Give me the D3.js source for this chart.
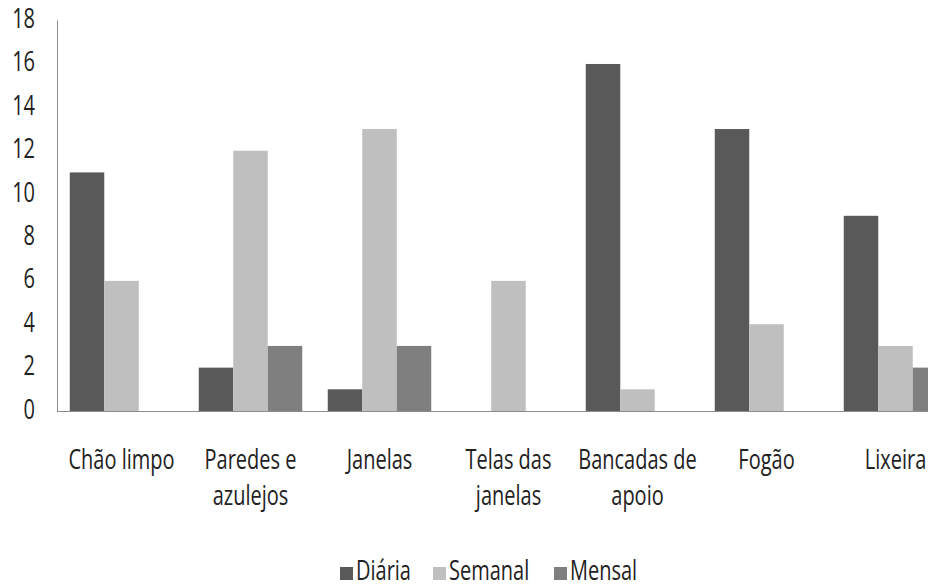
<!DOCTYPE html>
<html><head><meta charset="utf-8">
<script src="https://cdn.jsdelivr.net/npm/d3@7"></script>
<style>html,body{margin:0;padding:0;background:#fff;overflow:hidden}</style>
</head><body>
<script>
const categories = [["Chão limpo"],["Paredes e","azulejos"],["Janelas"],["Telas das","janelas"],["Bancadas de","apoio"],["Fogão"],["Lixeira"]];
const seriesNames = ["Diária","Semanal","Mensal"];
const diaria  = [11, 2, 1, 0, 16, 13, 9];
const semanal = [6, 12, 13, 6, 1, 4, 3];
const mensal  = [0, 3, 3, 0, 0, 0, 2];
const yTicks = [0,2,4,6,8,10,12,14,16,18];
const colors = ["#595959","#bfbfbf","#7f7f7f"];

const W = 928, H = 587;
const svg = d3.select("body").append("svg").attr("width", W).attr("height", H);
const x0 = 57, bandW = 129;
const x = d3.scaleBand().domain(d3.range(categories.length)).range([x0, x0 + bandW*categories.length]).paddingInner(0).paddingOuter(0);
const xi = d3.scaleBand().domain(d3.range(3)).range([0, bandW]).paddingInner(0).paddingOuter(0.37);
const y = d3.scaleLinear().domain([0,18]).range([411, 20.6]);

const SY = 1.33;
function stext(g, tx, ty, str, anchor, size){
  const gg = g.append("g").attr("transform", `translate(${tx},${ty}) scale(1,${SY})`);
  gg.append("text").attr("text-anchor", anchor).attr("font-family","'Open Sans'").attr("font-size", size).attr("fill","#222").text(str);
  return gg;
}

const series = [diaria, semanal, mensal];
series.forEach((vals, si) => {
  svg.append("g").selectAll("rect").data(vals).join("rect")
    .attr("x", (d,i) => x(i) + xi(si))
    .attr("width", xi.bandwidth())
    .attr("y", d => y(d))
    .attr("height", d => y(0) - y(d))
    .attr("fill", colors[si]);
});

// axes lines
svg.append("line").attr("x1", x0+0.5).attr("x2", x0+0.5).attr("y1", y(18)).attr("y2", y(0)).attr("stroke","#8c8c8c").attr("stroke-width",1);
svg.append("line").attr("x1", x0).attr("x2", W).attr("y1", y(0)+0.5).attr("y2", y(0)+0.5).attr("stroke","#8c8c8c").attr("stroke-width",1.2);

// y labels
const yl = svg.append("g");
yTicks.forEach(t => stext(yl, 35, y(t) + 7.5, String(t), "end", 20));

// x labels
const xl = svg.append("g");
categories.forEach((lines, i) => {
  lines.forEach((ln, li) => stext(xl, x(i) + bandW/2, 469 + li*36, ln, "middle", 20));
});

// legend
const lg = svg.append("g");
const legX = [340, 433, 554];
seriesNames.forEach((n, i) => {
  lg.append("rect").attr("x", legX[i]).attr("y", 567).attr("width", 13).attr("height", 13).attr("fill", colors[i]);
  stext(lg, legX[i] + 16, 580, n, "start", 20);
});
</script>
</body></html>
